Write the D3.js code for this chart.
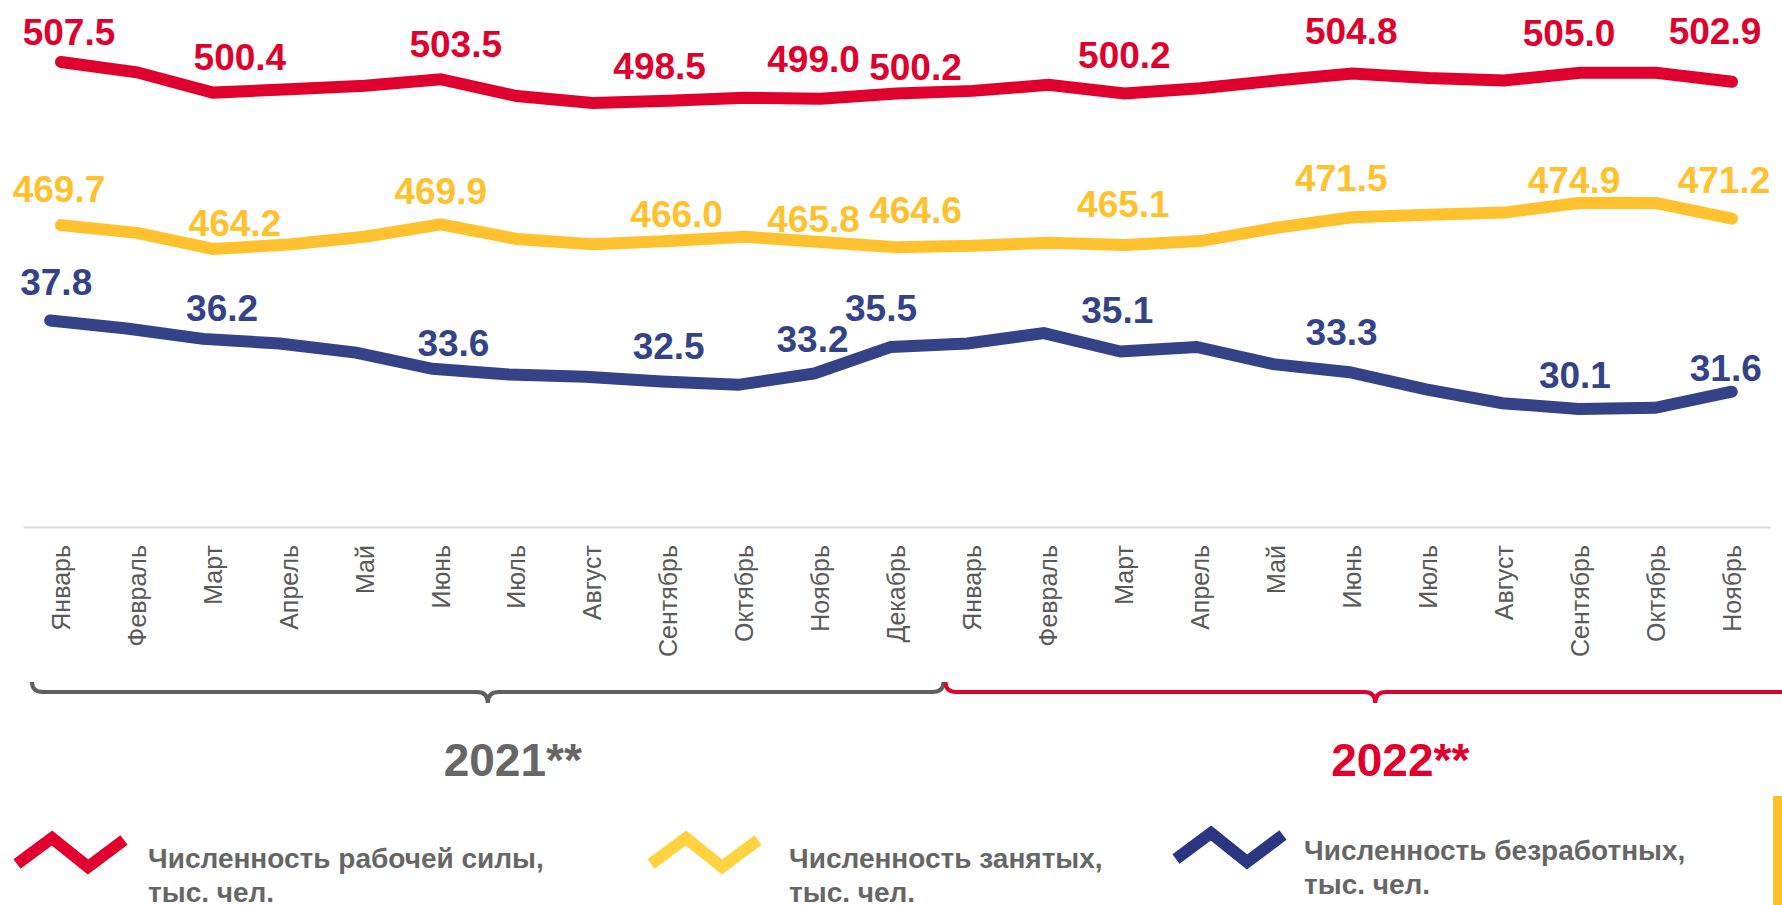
<!DOCTYPE html>
<html lang="ru">
<head>
<meta charset="utf-8">
<script src="https://cdn.jsdelivr.net/npm/d3@7"></script>
<style>
  body { margin: 0; background: #fff; }
  svg { display: block; font-family: "Liberation Sans", Arial, sans-serif; }
</style>
</head>
<body>
<div id="chart"></div>
<script>
const months = ['Январь', 'Февраль', 'Март', 'Апрель', 'Май', 'Июнь', 'Июль', 'Август', 'Сентябрь', 'Октябрь', 'Ноябрь', 'Декабрь',
    'Январь', 'Февраль', 'Март', 'Апрель', 'Май', 'Июнь', 'Июль', 'Август', 'Сентябрь', 'Октябрь', 'Ноябрь']
const years = ['2021**', '2022**']

const laborForce = [507.5, 505.1, 500.4, 501.2, 502.0, 503.5, 499.6, 498.0, 498.5, 499.2, 499.0, 500.2,
    500.8, 502.2, 500.2, 501.4, 503.2, 504.8, 503.8, 503.2, 505.0, 505.0, 502.9]
const employed = [469.7, 467.9, 464.2, 465.2, 467.0, 469.9, 466.5, 465.3, 466.0, 467.0, 465.8, 464.6,
    464.9, 465.6, 465.1, 466.0, 469.1, 471.5, 472.1, 472.6, 474.9, 474.8, 471.2]
const unemployed = [37.8, 37.1, 36.2, 35.8, 35.0, 33.6, 33.1, 32.9, 32.5, 32.2, 33.2, 35.5,
    35.8, 36.7, 35.1, 35.5, 34.0, 33.3, 31.8, 30.6, 30.1, 30.2, 31.6]

// points that carry a value label
const labelled = [0, 2, 5, 8, 10, 11, 14, 17, 20, 22]

const legendNames = [
    ['Численность рабочей силы,', 'тыс. чел.'],
    ['Численность занятых,', 'тыс. чел.'],
    ['Численность безработных,', 'тыс. чел.']
]

// hand placement of the value labels, [dx, dy] from the point
const nudgeForce = [[8, -17], [27, -23], [15, -22], [-9, -22], [-7, -27], [19, -13], [0, -25], [-1, -30], [-11, -27], [-17, -38]]
const nudgeEmployed = [[-2, -23], [22, -13], [0, -20], [8, -14], [-7, -10], [19, -24], [-1, -28], [-11, -26], [-6, -10], [-8, -26]]
const nudgeUnemployed = [[6, -25], [19, -18], [21, -13], [7, -22], [-2, -21], [-10, -26], [-3, -29], [-8, -27], [-4, -21], [-6, -11]]

const W = 1782, H = 905
const RED = '#e0002d', YELLOW = '#ffc22e', BLUE = '#344287', GREY = '#595959'

const svg = d3.select('#chart').append('svg')
    .attr('width', W)
    .attr('height', H)

const idx = d3.range(months.length)
const axisY = 527

const x = d3.scaleBand().domain(idx).range([23, 1770]).padding(0)
const xb = d3.scaleBand().domain(idx).range([12, 1770]).padding(0)
const cx = i => x(i) + x.bandwidth() / 2
const cxb = i => xb(i) + xb.bandwidth() / 2

const y = d3.scaleLinear().domain([400, 520]).range([526, 8])
const y2 = d3.scaleLinear().domain([20, 65]).range([525, 8])

// month axis
const axis = svg.append('g')
    .attr('transform', `translate(0,${axisY})`)
    .call(d3.axisBottom(x).tickSize(0).tickFormat(i => months[i]))

axis.select('.domain').attr('stroke', '#d9d9d9').attr('stroke-width', 2)
axis.selectAll('text')
    .attr('transform', 'rotate(-90)')
    .attr('x', -18)
    .attr('y', 0)
    .attr('dy', '0.35em')
    .attr('text-anchor', 'end')
    .attr('fill', GREY)
    .style('font-size', '25px')
    .style('font-family', '"Liberation Sans", Arial, sans-serif')

// series
const series = [
    { values: laborForce, color: RED, xs: cx, ys: y, nudge: nudgeForce },
    { values: employed, color: YELLOW, xs: cx, ys: y, nudge: nudgeEmployed },
    { values: unemployed, color: BLUE, xs: cxb, ys: y2, nudge: nudgeUnemployed }
]

series.forEach(s => {
    const line = d3.line()
        .x((d, i) => s.xs(i))
        .y(d => s.ys(d))

    svg.append('path')
        .datum(s.values)
        .attr('d', line)
        .attr('fill', 'none')
        .attr('stroke', s.color)
        .attr('stroke-width', 12)
        .attr('stroke-linecap', 'round')
        .attr('stroke-linejoin', 'miter')
})

series.forEach(s => {
    svg.append('g').selectAll('text')
        .data(labelled)
        .join('text')
        .attr('x', (i, k) => s.xs(i) + s.nudge[k][0])
        .attr('y', (i, k) => s.ys(s.values[i]) + s.nudge[k][1])
        .attr('text-anchor', 'middle')
        .attr('fill', s.color)
        .style('font-size', '37px')
        .style('font-weight', 'bold')
        .text(i => s.values[i].toFixed(1))
})

// year braces
function brace(x0, x1, top, mid, tip) {
    const m = (x0 + x1) / 2, r = 11
    return `M${x0},${top} Q${x0},${mid} ${x0 + r},${mid} L${m - r},${mid} Q${m},${mid} ${m},${tip}` +
        ` Q${m},${mid} ${m + r},${mid} L${x1 - r},${mid} Q${x1},${mid} ${x1},${top}`
}

const split = x(12) + 9
const braces = [
    { x0: x(0) + 9, x1: split, color: '#5f5f5f' },
    { x0: split + 2, x1: x(22) + x.bandwidth() + 35, color: RED }
]

braces.forEach((b, k) => {
    svg.append('path')
        .attr('d', brace(b.x0, b.x1, 682, 692, 703))
        .attr('fill', 'none')
        .attr('stroke', b.color)
        .attr('stroke-width', 4)

    svg.append('text')
        .attr('x', (b.x0 + b.x1) / 2 + 25)
        .attr('y', 776)
        .attr('text-anchor', 'middle')
        .attr('fill', k === 0 ? '#666666' : RED)
        .style('font-size', '46px')
        .style('font-weight', 'bold')
        .text(years[k])
})

// legend
const legend = [
    { color: '#e2002e', x: 17, y: 838, tx: 148, ty: 868 },
    { color: '#ffd23f', x: 651, y: 838, tx: 789, ty: 868 },
    { color: '#2b3582', x: 1176, y: 833, tx: 1304, ty: 860 }
]

legend.forEach((l, k) => {
    const pts = [[0, 26], [35, 0], [71, 29], [107, 2]].map(p => [l.x + p[0], l.y + p[1]])
    svg.append('path')
        .attr('d', d3.line()(pts))
        .attr('fill', 'none')
        .attr('stroke', l.color)
        .attr('stroke-width', 12)
        .attr('stroke-linejoin', 'miter')

    const t = svg.append('text')
        .attr('x', l.tx)
        .attr('y', l.ty)
        .attr('fill', '#666666')
        .style('font-size', '28px')
        .style('font-weight', 'bold')

    legendNames[k].forEach((s, j) => {
        t.append('tspan').attr('x', l.tx).attr('dy', j ? 34 : 0).text(s)
    })
})

// yellow edge mark
svg.append('rect')
    .attr('x', 1773)
    .attr('y', 796)
    .attr('width', 9)
    .attr('height', H - 796)
    .attr('fill', YELLOW)
</script>
</body>
</html>
